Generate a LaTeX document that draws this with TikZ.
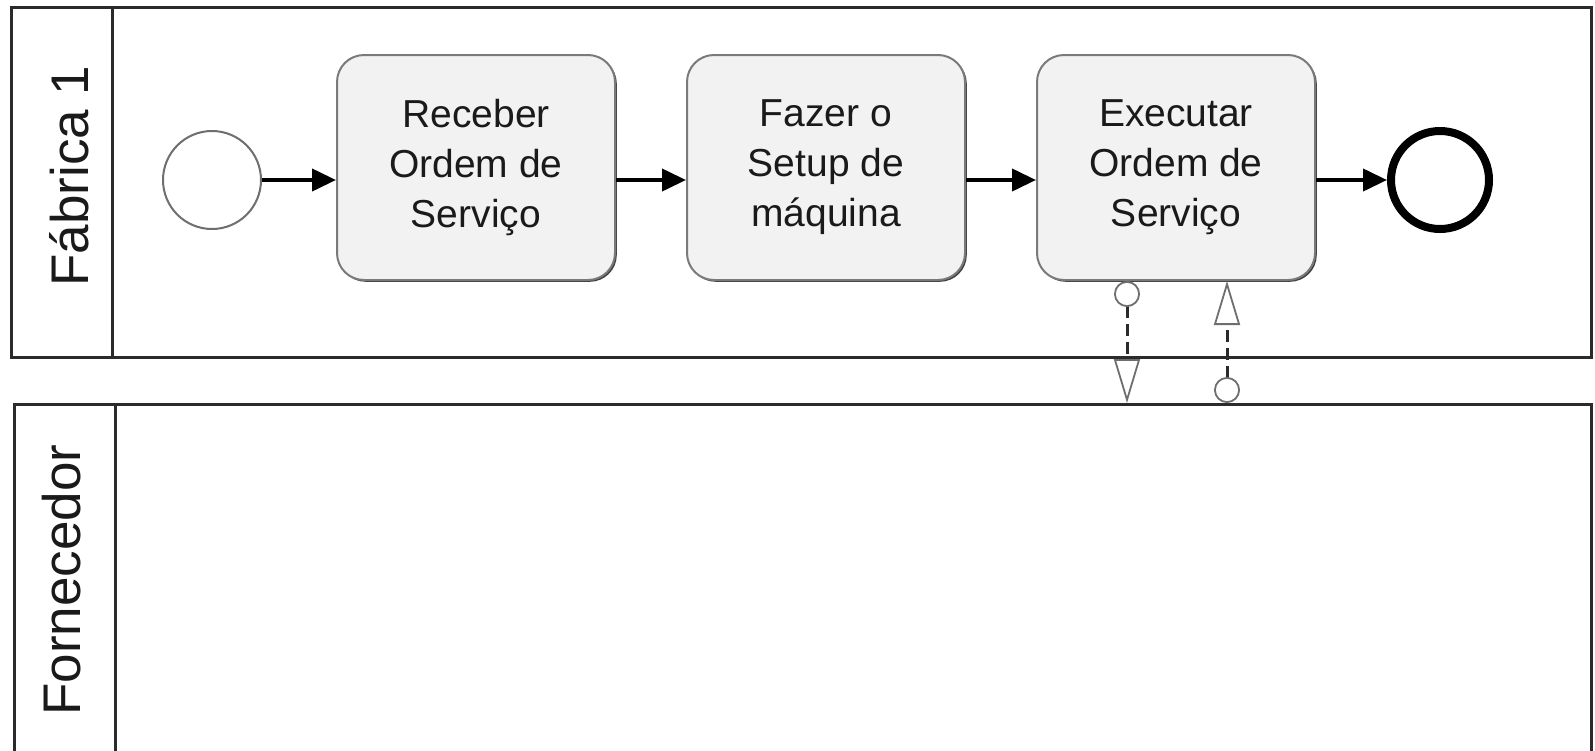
\documentclass[tikz,border=0pt]{standalone}
\usepackage{fontspec}
\setmainfont{Liberation Sans}
\usetikzlibrary{arrows.meta,shadows,calc}

\definecolor{poolline}{HTML}{2B2B2B}
\definecolor{taskfill}{HTML}{F2F2F2}
\definecolor{taskline}{HTML}{7A7A7A}
\definecolor{ink}{HTML}{1A1A1A}
\definecolor{tipline}{HTML}{6E6E6E}

\begin{document}
\begin{tikzpicture}[x=0.5pt,y=-0.5pt,
  pool/.style={draw=poolline, line width=1.5pt, fill=white, rectangle,
    inner sep=0pt, anchor=north west},
  lanelabel/.style={rotate=90, anchor=base, text=ink, inner sep=0pt,
    font=\fontsize{26.5pt}{30pt}\selectfont},
  task/.style={draw=taskline, fill=taskfill, line width=1pt,
    rounded corners=13.5pt, minimum width=139pt, minimum height=112.5pt,
    align=center, text=ink, inner sep=0pt,
    font=\fontsize{19.5pt}{25pt}\selectfont,
    drop shadow={shadow xshift=0.9pt, shadow yshift=-0.9pt, opacity=1, fill=black!75}},
  startev/.style={circle, draw=tipline, line width=1pt, fill=white,
    minimum size=49pt, inner sep=0pt},
  endev/.style={circle, draw=black, line width=4pt, fill=white,
    minimum size=49pt, inner sep=0pt},
  seqflow/.style={draw=black, line width=2pt,
    -{Triangle[length=12pt, width=11pt]}},
  msgflow/.style={draw=poolline, line width=1.5pt, dash pattern=on 6pt off 3pt,
    {Circle[length=13pt, fill=white, color=tipline, line width=0.9pt]}-{Triangle[length=22pt, width=13pt, fill=white, color=tipline, line width=0.9pt]}},
]
\useasboundingbox (0,0) rectangle (1595,750);

% pools with their header strips
\node[pool, minimum width=790pt, minimum height=175pt] (pool1) at (10,6) {};
\draw[poolline, line width=1.5pt] (112,6) -- (112,356);
\node[pool, minimum width=788.5pt, minimum height=174.5pt] (pool2) at (13,403) {};
\draw[poolline, line width=1.5pt] (115,403) -- (115,752);

\node[lanelabel] (lab1) at (88,176) {Fábrica 1};
\node[lanelabel] (lab2) at (80,580) {Fornecedor};

% events and tasks
\node[startev] (start) at (212,180) {};
\node[task] (t1) at (476,167.5) {Receber\\Ordem de\\Serviço};
\node[task] (t2) at (826,167.5) {Fazer o\\Setup de\\máquina};
\node[task] (t3) at (1176,167.5) {Executar\\Ordem de\\Serviço};
\node[endev] (end) at (1440,180) {};

% sequence flows
\draw[seqflow] (start.east) -- (start.east -| t1.west);
\draw[seqflow] (t1.east |- start.east) -- (t2.west |- start.east);
\draw[seqflow] (t2.east |- start.east) -- (t3.west |- start.east);
\draw[seqflow] (t3.east |- end.west) -- (end.west);

% message flows between the task and the supplier pool
\coordinate (m1a) at ([xshift=-24.5pt]t3.south);
\coordinate (m1b) at (m1a |- pool2.north);
\coordinate (m2a) at ([xshift=25.5pt]t3.south);
\coordinate (m2b) at (m2a |- pool2.north);
\draw[msgflow] (m1a) -- (m1b);
\draw[msgflow] (m2b) -- (m2a);
\end{tikzpicture}
\end{document}
